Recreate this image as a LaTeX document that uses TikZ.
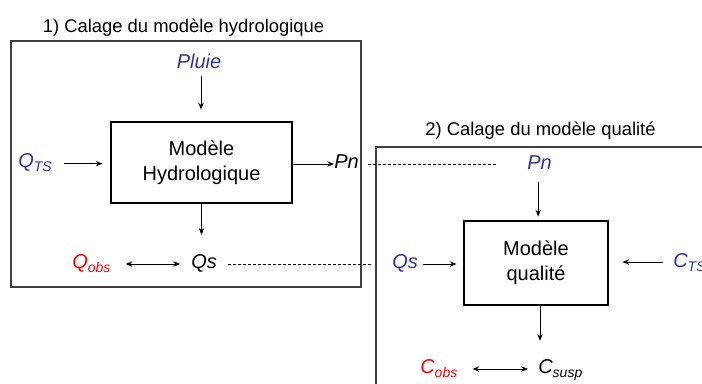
\documentclass[tikz,border=0pt]{standalone}
\usepackage{fontspec}
\setmainfont{Liberation Sans}
\usetikzlibrary{arrows.meta}
\definecolor{dblue}{RGB}{51,51,153}
\definecolor{dred}{RGB}{255,0,0}
\newcommand{\lsub}[1]{\raisebox{-3.5pt}{\fontsize{10.5}{10.5}\selectfont\itshape #1}}
\begin{document}
\begin{tikzpicture}[x=0.75pt,y=-0.75pt,
  txt/.style={font=\fontsize{15}{18.75}\selectfont\itshape, inner sep=0pt, anchor=base west},
  ttl/.style={font=\fontsize{13.8}{16}\selectfont, inner sep=0pt, anchor=base},
  model/.style={draw=black, line width=0.8pt, align=center, font=\fontsize{15}{18.75}\selectfont, inner sep=0pt},
  frame/.style={draw=black!75, line width=1pt},
  arr/.style={-{Stealth[length=5pt,width=4pt]}, line width=0.6pt},
  darr/.style={{Stealth[length=5pt,width=4pt]}-{Stealth[length=5pt,width=4pt]}, line width=0.6pt},
  dashln/.style={dash pattern=on 2.25pt off 1.5pt, line width=0.6pt}]
\useasboundingbox (0,0) rectangle (702,383);
\clip (0,0) rectangle (702,383);
% frames
\draw[frame] (11,41) rectangle (361,287);
\draw[frame] (376,147) rectangle (730,410);
% titles
\node[ttl] (t1) at (183.5,32) {1) Calage du modèle hydrologique};
\node[ttl] (t2) at (540.5,135) {2) Calage du modèle qualité};
% part 1
\node[model, minimum width=181*0.75pt, minimum height=81*0.75pt] (mh) at (201.5,162.5) {Modèle\\Hydrologique};
\node[txt, text=dblue, anchor=base] (pluie) at (199,68) {Pluie};
\node[txt, text=dblue] (qts) at (18,167) {Q\lsub{TS}};
\node[txt] (pn1) at (334,168) {Pn};
\node[txt, text=dred] (qobs) at (72,268) {Q\lsub{obs}};
\node[txt] (qs1) at (191,268) {Qs};
\draw[arr, shorten <=6pt, shorten >=9pt] ([xshift=1.5pt]pluie.south) -- ([xshift=1.5pt]pluie.south |- mh.north);
\draw[arr, shorten <=9pt, shorten >=6pt] ([yshift=2.5pt]qts.base east) -- ([yshift=2.5pt]qts.base east -| mh.west);
\draw[arr] ([yshift=3pt]pn1.base west -| mh.east) -- ([yshift=3pt]pn1.base west);
\draw[arr, shorten >=14.25pt] (mh.south) -- (mh.south |- qs1.north);
\draw[darr, shorten <=11.25pt, shorten >=8.25pt] ([yshift=3pt]qobs.base east) -- ([yshift=3pt]qobs.base east -| qs1.west);
% part 2
\node[model, minimum width=144*0.75pt, minimum height=84*0.75pt] (mq) at (536,263) {Modèle\\qualité};
\node[txt, text=dblue] (pn2) at (527,169) {Pn};
\node[txt, text=dblue] (qs2) at (392,268) {Qs};
\node[txt, text=dblue] (cts) at (673,267) {C\lsub{TS}};
\node[txt, text=dred] (cobs) at (420,373) {C\lsub{obs}};
\node[txt] (csusp) at (538,373) {C\lsub{susp}};
\draw[arr, shorten <=9.75pt, shorten >=3pt] ([xshift=-1pt]pn2.south) -- ([xshift=-1pt]pn2.south |- mq.north);
\draw[arr, shorten <=3.75pt, shorten >=5.25pt] ([yshift=3pt]qs2.base east) -- ([yshift=3pt]qs2.base east -| mq.west);
\draw[arr, shorten <=7.5pt, shorten >=10.5pt] ([yshift=3.75pt]cts.base west) -- ([yshift=3.75pt]cts.base west -| mq.east);
\draw[arr, shorten >=13.5pt] ([xshift=3pt]mq.south) -- ([xshift=3pt]mq.south |- csusp.north);
\draw[darr, shorten <=11.25pt, shorten >=7.5pt] ([yshift=3pt]cobs.base east) -- ([yshift=3pt]cobs.base east -| csusp.west);
% dashed links
\draw[dashln, shorten <=6.75pt, shorten >=22.5pt] ([yshift=3pt]pn1.base east) -- ([yshift=3pt]pn1.base east -| pn2.west);
\draw[dashln, shorten <=8.25pt, shorten >=15pt] ([yshift=3pt]qs1.base east) -- ([yshift=3pt]qs1.base east -| qs2.west);
\end{tikzpicture}
\end{document}
